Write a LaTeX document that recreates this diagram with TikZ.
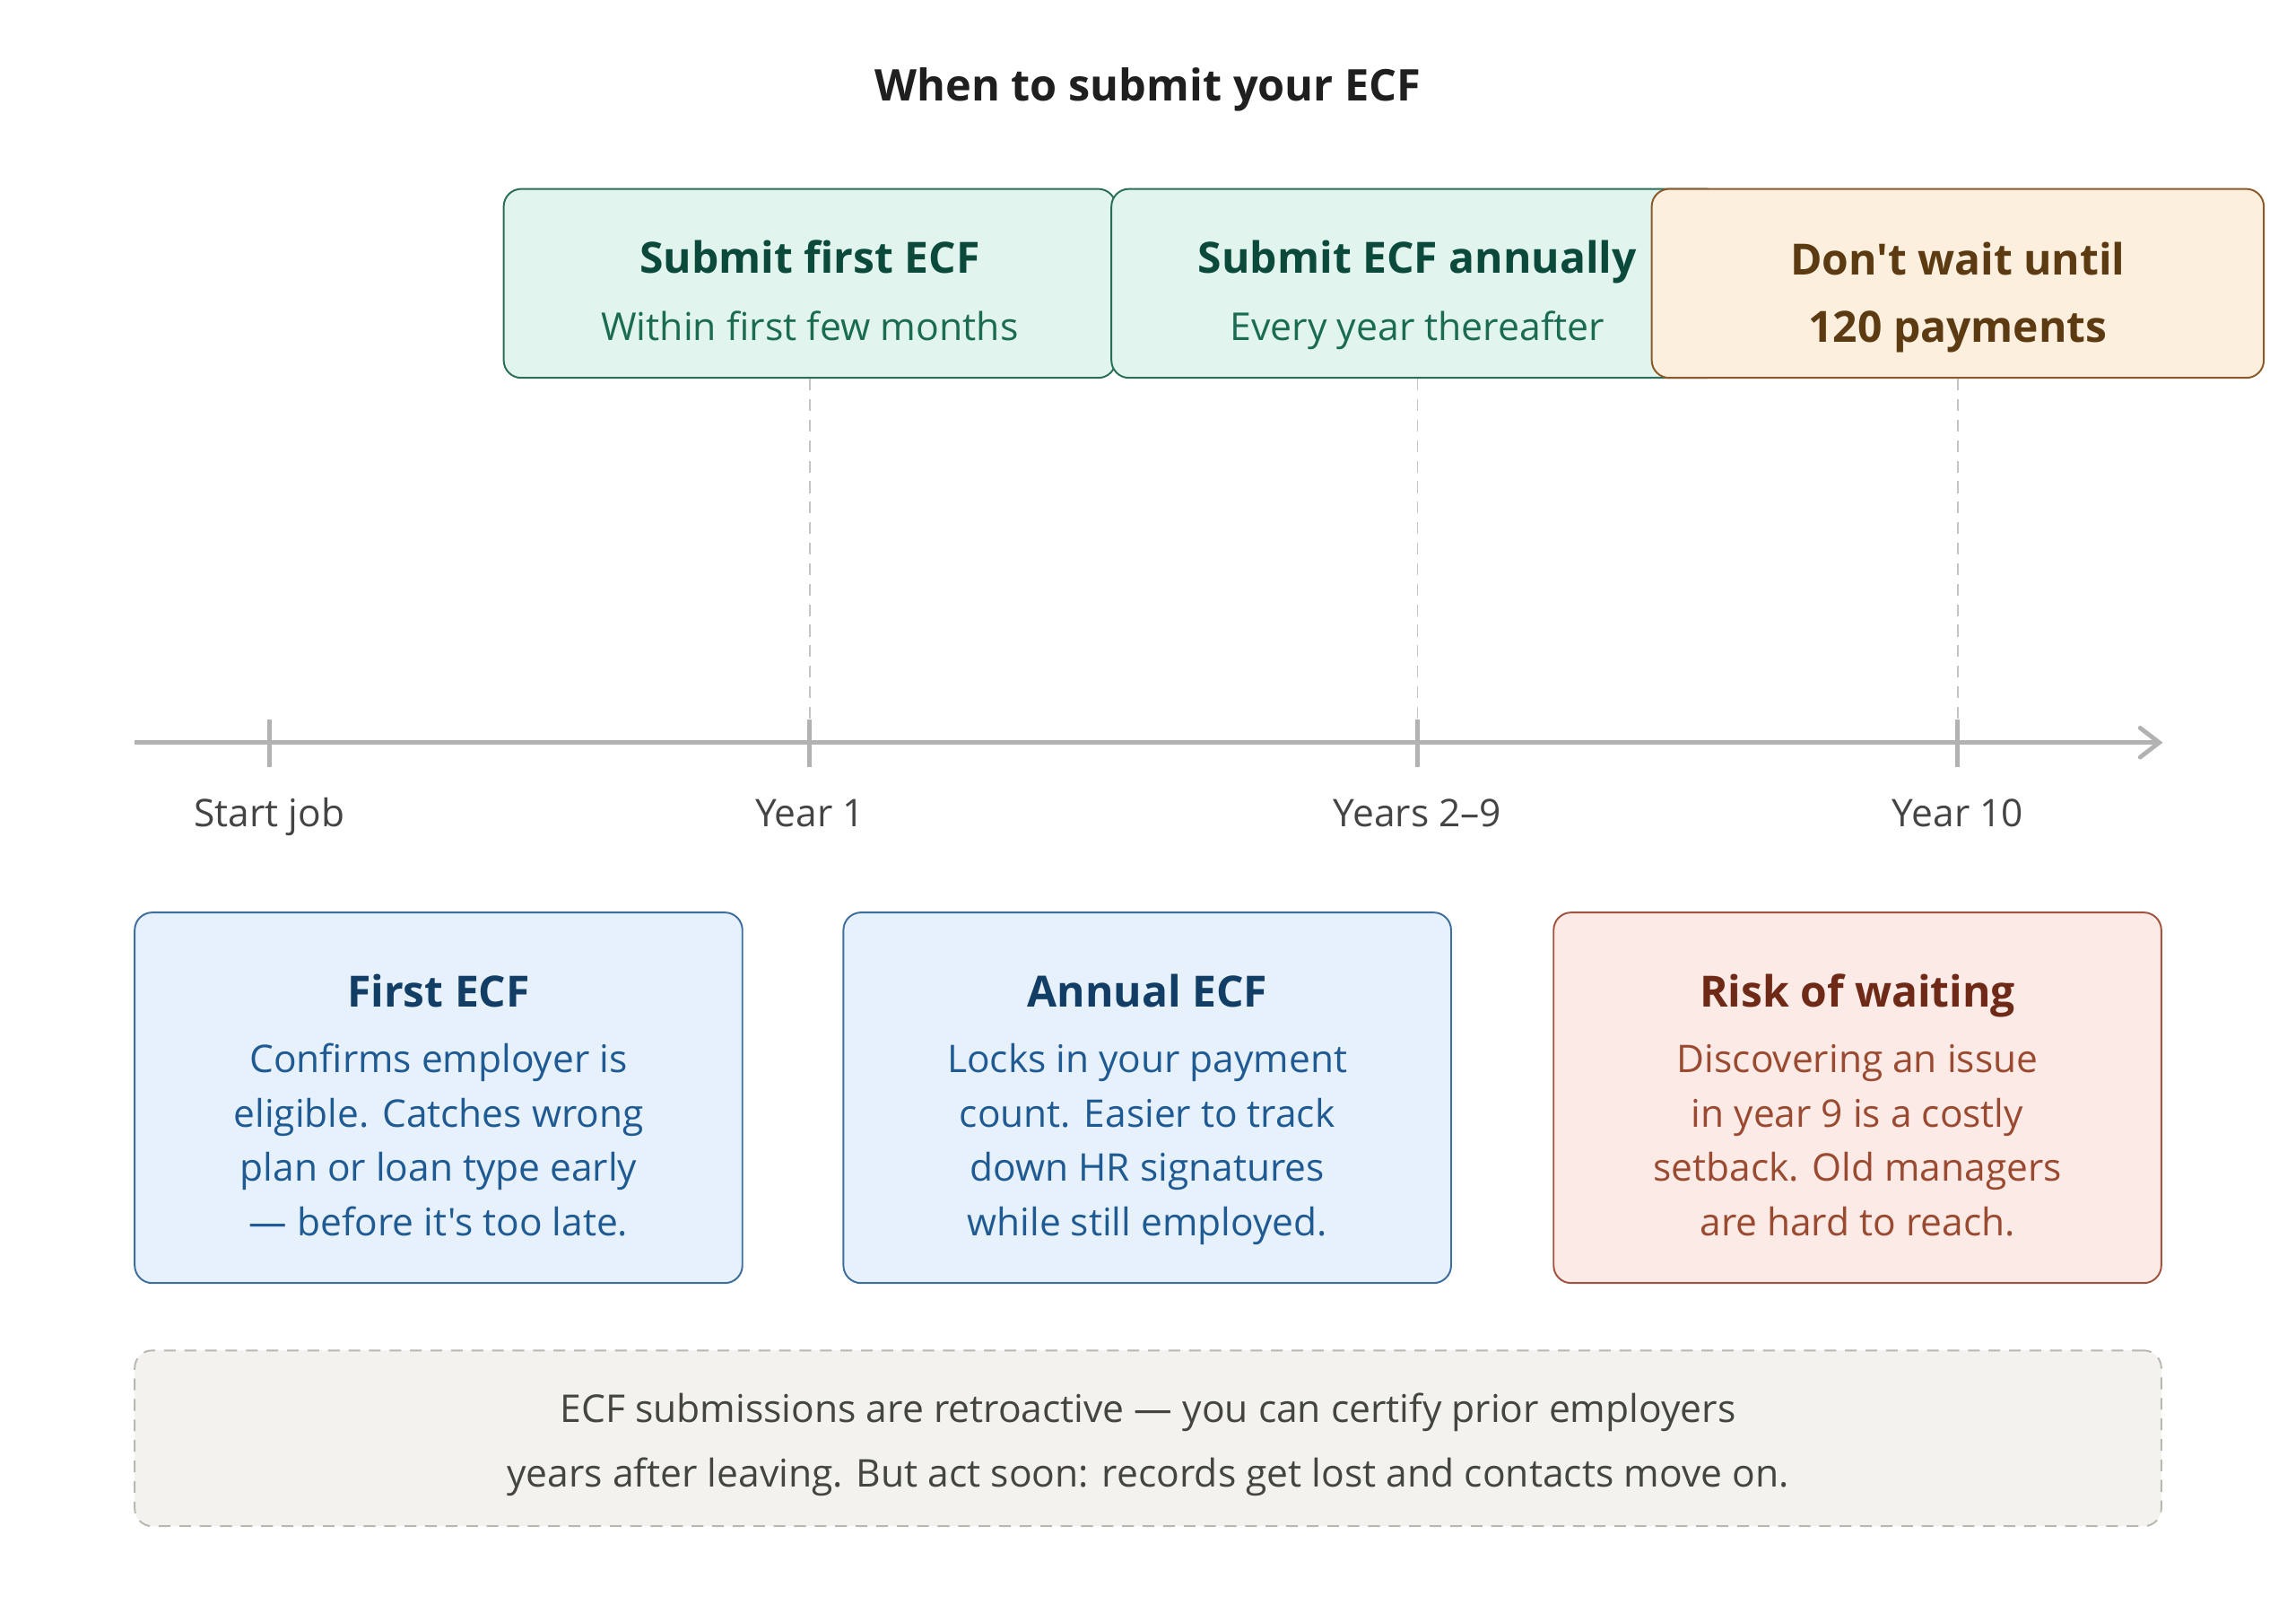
\documentclass[tikz,border=0pt]{standalone}
\usepackage{fontspec}
\setmainfont{Open Sans}[Ligatures=TeXOff]
\usetikzlibrary{arrows.meta}
\definecolor{ttlc}{HTML}{1F1F1F}
\definecolor{lblc}{HTML}{444444}
\definecolor{axisc}{HTML}{B2B2B2}
\definecolor{guidec}{HTML}{C4C4C4}
\definecolor{mintbg}{HTML}{E1F5EE}
\definecolor{mintline}{HTML}{2A6E5A}
\definecolor{minthd}{HTML}{0B4A3A}
\definecolor{minttx}{HTML}{1A6B52}
\definecolor{peachbg}{HTML}{FCEFDD}
\definecolor{peachline}{HTML}{8A5A2B}
\definecolor{peachhd}{HTML}{5C3A12}
\definecolor{bluebg}{HTML}{E6F1FB}
\definecolor{blueline}{HTML}{3E6E9E}
\definecolor{bluehd}{HTML}{123E66}
\definecolor{bluetx}{HTML}{1F5A93}
\definecolor{redbg}{HTML}{FBEAE6}
\definecolor{redline}{HTML}{A0543F}
\definecolor{redhd}{HTML}{6E2A16}
\definecolor{redtx}{HTML}{9A4A30}
\definecolor{notebg}{HTML}{F3F2EE}
\definecolor{noteline}{HTML}{B8B8B0}
\definecolor{notetx}{HTML}{444441}
\newcommand{\bodyfnt}{\fontsize{13}{18.5}\selectfont}
\newcommand{\headfnt}{\fontsize{14.7}{16}\selectfont\bfseries}

\begin{document}
\begin{tikzpicture}[x=0.5pt,y=0.5pt,
  phase/.style={draw=#1line, fill=#1bg, rounded corners=6pt, line width=0.6pt,
    minimum width=209pt, minimum height=64.5pt, inner sep=0pt, align=center,
    text height=39pt, text depth=0pt},
  card/.style={draw=#1line, fill=#1bg, rounded corners=6pt, line width=0.6pt,
    minimum width=207.5pt, minimum height=126.5pt, inner sep=0pt, align=center,
    text height=94pt, text depth=0pt, font=\bodyfnt, text=#1tx},
  axisln/.style={draw=axisc, line width=1.5pt},
  guide/.style={draw=guidec, line width=0.5pt, dash pattern=on 4pt off 3pt},
  lbl/.style={font=\bodyfnt, text=lblc, anchor=base}]
  \useasboundingbox (0,0) rectangle (1568,1107);

  \node[font=\fontsize{14.9}{17}\selectfont\bfseries, text=ttlc, anchor=base] (ttl) at (784,1038) {When to submit your ECF};

  % phases above the axis
  \node[phase=mint, font=\fontsize{13.1}{23}\selectfont, text=minttx] (s1) at (553,913.5)
    {{\headfnt\color{minthd}Submit first ECF}\\Within first few months};
  \node[phase=mint, font=\fontsize{13.1}{23}\selectfont, text=minttx] (s2) at (968,913.5)
    {{\headfnt\color{minthd}Submit ECF annually}\\Every year thereafter};
  \node[phase=peach, text height=40pt, font=\fontsize{14.7}{23}\selectfont\bfseries, text=peachhd] (s3) at (1337,913.5)
    {Don't wait until\\120 payments};

  % axis and ticks
  \coordinate (ax0) at (92,600);
  \coordinate (ax1) at (1477,600);
  \coordinate (t0) at (184,600);
  \coordinate (t1) at (553,600);
  \coordinate (t2) at (968,600);
  \coordinate (t3) at (1337,600);
  \draw[guide] (s1.south) -- (t1);
  \draw[guide] (s2.south) -- (t2);
  \draw[guide] (s3.south) -- (t3);
  \draw[axisln, -{Straight Barb[length=6.5pt,width=10pt,line cap=round]}] (ax0) -- (ax1);
  \draw[axisln] ([yshift=8pt]t0) -- ([yshift=-8.5pt]t0);
  \draw[axisln] ([yshift=8pt]t1) -- ([yshift=-8.5pt]t1);
  \draw[axisln] ([yshift=8pt]t2) -- ([yshift=-8.5pt]t2);
  \draw[axisln] ([yshift=8pt]t3) -- ([yshift=-8.5pt]t3);
  \node[lbl] (l0) at (184,542.7) {Start job};
  \node[lbl] (l1) at (553,542.7) {Year 1};
  \node[lbl] (l2) at (968,542.7) {Years 2–9};
  \node[lbl] (l3) at (1337,542.7) {Year 10};

  % cards below
  \node[card=blue] (c1) at (299.5,357.5)
    {{\headfnt\color{bluehd}First ECF}\\[4pt]Confirms employer is\\eligible. Catches wrong\\plan or loan type early\\— before it's too late.};
  \node[card=blue] (c2) at (783.5,357.5)
    {{\headfnt\color{bluehd}Annual ECF}\\[4pt]Locks in your payment\\count. Easier to track\\down HR signatures\\while still employed.};
  \node[card=red] (c3) at (1268.5,357.5)
    {{\headfnt\color{redhd}Risk of waiting}\\[4pt]Discovering an issue\\in year 9 is a costly\\setback. Old managers\\are hard to reach.};

  % note
  \node[draw=noteline, fill=notebg, rounded corners=6pt, line width=0.6pt, dash pattern=on 4pt off 3pt,
    minimum width=692pt, minimum height=60pt, inner sep=0pt, align=center, text height=33pt, text depth=0pt,
    font=\fontsize{13.05}{22}\selectfont, text=notetx] (nt) at (784,125)
    {ECF submissions are retroactive — you can certify prior employers\\years after leaving. But act soon: records get lost and contacts move on.};
\end{tikzpicture}
\end{document}
